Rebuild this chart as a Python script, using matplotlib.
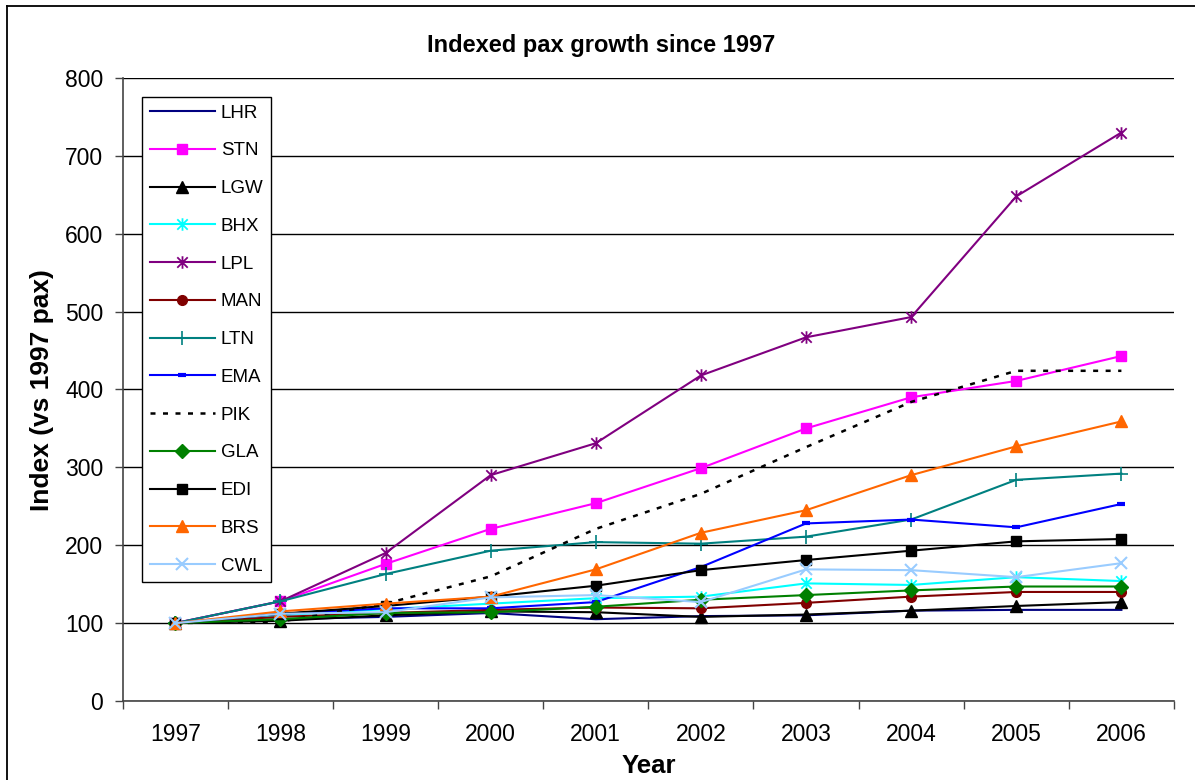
import matplotlib
matplotlib.use("Agg")
import matplotlib.pyplot as plt
from matplotlib.path import Path
from matplotlib.lines import Line2D

plt.rcParams["font.family"] = ["Liberation Sans", "DejaVu Sans"]

years = ["1997", "1998", "1999", "2000", "2001", "2002", "2003", "2004", "2005", "2006"]

lhr = [100, 105, 108, 113, 105, 109, 110, 116, 117, 117]
stn = [100, 128, 176, 221, 254, 299, 350, 390, 411, 443]
lgw = [100, 103, 110, 115, 114, 108, 111, 116, 122, 127]
bhx = [100, 110, 118, 125, 132, 134, 151, 149, 159, 154]
lpl = [100, 128, 190, 290, 331, 418, 467, 493, 648, 730]
man = [100, 108, 113, 117, 120, 119, 126, 134, 140, 140]
ltn = [100, 128, 163, 193, 204, 202, 211, 233, 284, 292]
ema = [100, 112, 119, 119, 127, 172, 228, 233, 223, 253]
pik = [100, 102, 125, 160, 221, 266, 326, 384, 424, 424]
gla = [100, 105, 113, 114, 121, 130, 136, 142, 147, 147]
edi = [100, 112, 122, 134, 148, 168, 181, 193, 205, 208]
brs = [100, 115, 125, 134, 169, 216, 245, 290, 327, 359]
cwl = [100, 112, 114, 133, 136, 127, 169, 168, 159, 177]

# x with a vertical stroke, like the spreadsheet "star" marker
star = Path([(-1, -1), (1, 1), (-1, 1), (1, -1), (0, -1.2), (0, 1.2)],
            [Path.MOVETO, Path.LINETO, Path.MOVETO, Path.LINETO, Path.MOVETO, Path.LINETO])

series = [
    ("LHR", lhr, dict(color="#000080", marker="None")),
    ("STN", stn, dict(color="#FF00FF", marker="s", ms=7)),
    ("LGW", lgw, dict(color="black", marker="^", ms=8)),
    ("BHX", bhx, dict(color="#00FFFF", marker=star, ms=9, mew=1.3)),
    ("LPL", lpl, dict(color="#800080", marker=star, ms=9, mew=1.3)),
    ("MAN", man, dict(color="#800000", marker="o", ms=7)),
    ("LTN", ltn, dict(color="#008080", marker="+", ms=10, mew=1.2)),
    ("EMA", ema, dict(color="#0000FF", marker="_", ms=6, mew=3)),
    ("PIK", pik, dict(color="black", marker="None", ls=(0, (2, 3)), lw=1.8)),
    ("GLA", gla, dict(color="#008000", marker="D", ms=7)),
    ("EDI", edi, dict(color="black", marker="s", ms=7)),
    ("BRS", brs, dict(color="#FF6600", marker="^", ms=8)),
    ("CWL", cwl, dict(color="#99CCFF", marker="x", ms=8, mew=1.5)),
]

fig = plt.figure(figsize=(11.95, 7.8), dpi=100)
ax = fig.add_axes([0.1027, 0.1013, 0.8797, 0.7987])

x = list(range(len(years)))
for name, vals, style in series:
    style = dict(style)
    lw = style.pop("lw", 1.5)
    ax.plot(x, vals, label=name, lw=lw, **style)

ax.set_xlim(-0.5, len(years) - 0.5)
ax.set_ylim(0, 800)
ax.set_yticks(range(0, 801, 100))
ax.yaxis.grid(True, color="black", lw=1)
ax.set_axisbelow(True)

# ticks sit between categories, labels at the centres
ax.set_xticks([i - 0.5 for i in range(len(years) + 1)])
ax.set_xticklabels([])
ax.set_xticks(x, minor=True)
ax.set_xticklabels(years, minor=True)
ax.tick_params(axis="x", which="major", length=6, width=1, color="#444444", direction="out")
ax.tick_params(axis="x", which="minor", length=0, pad=16, labelsize=16.5)
ax.tick_params(axis="y", length=6, width=1, color="#444444", pad=8, labelsize=16.5)

for side in ["top", "right"]:
    ax.spines[side].set_visible(False)
for side in ["left", "bottom"]:
    ax.spines[side].set_color("#444444")
    ax.spines[side].set_linewidth(1.2)

leg = ax.legend(loc="upper left", bbox_to_anchor=(0.0184, 0.9695), borderaxespad=0,
                fontsize=13.5, handlelength=3.5, labelspacing=1.1, handletextpad=0.3,
                borderpad=0.4, fancybox=False, framealpha=1, edgecolor="black")
leg.get_frame().set_linewidth(1)

fig.text(0.503, 0.942, "Indexed pax growth since 1997", ha="center", va="center",
         fontsize=17, fontweight="bold")
fig.text(0.035, 0.5, "Index (vs 1997 pax)", ha="center", va="center", rotation=90,
         fontsize=19, fontweight="bold")
fig.text(0.543, 0.018, "Year", ha="center", va="center", fontsize=18.5, fontweight="bold")

# outer frame (left and top edges)
fig.add_artist(Line2D([7 / 1195, 7 / 1195], [0, 1 - 6 / 780], transform=fig.transFigure,
                      color="black", lw=1.3))
fig.add_artist(Line2D([7 / 1195, 1], [1 - 6 / 780, 1 - 6 / 780], transform=fig.transFigure,
                      color="black", lw=1.3))

fig.savefig("out.png", dpi=100)
